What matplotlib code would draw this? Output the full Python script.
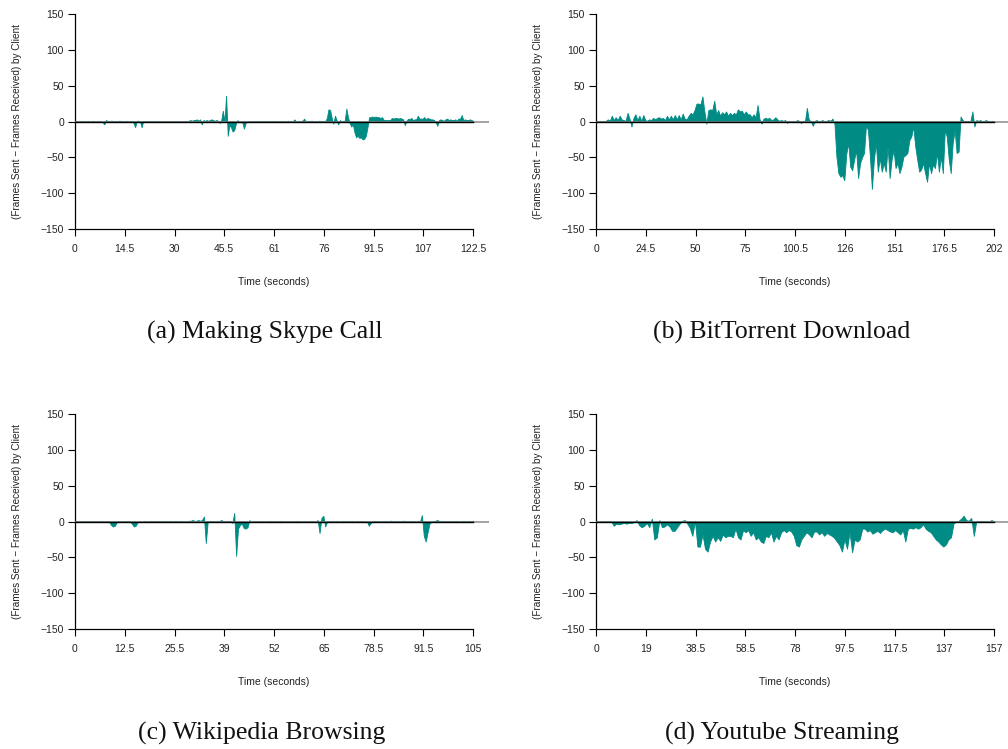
import numpy as np
import matplotlib
matplotlib.use("Agg")
import matplotlib.pyplot as plt
from matplotlib.transforms import blended_transform_factory

# ---------------------------------------------------------------------------
# Frame imbalance per time step: (frames sent - frames received) by client
# ---------------------------------------------------------------------------

# (a) Skype call, sampled every 0.5 s from 0 to 122.5 s
skype_step = 0.5
skype_diff = [
    0, 0, 0, 0, 1, 0, 0, 0, 1, 0, 0, 1, 0, 0, 0, 0, 0, -1, -4, 2,
    1, 0, 1, 1, 0, 1, 0, 1, 1, 0, 1, 0, 1, 0, 0, 1, -2, -8, 1, 1,
    0, -8, 1, 0, 1, 0, 1, 0, 0, 1, 0, 1, 0, 0, 0, 0, 0, 0, 0, 0,
    0, 0, 0, 0, 0, 0, 0, 0, 0, 0, 1, 2, 1, 2, 2, 3, 1, 3, -4, 2,
    1, 2, 1, 2, 3, 2, 1, 2, 1, -2, 2, 15, 0, 36, -20, -5, -8, -14, -12, -3,
    2, -1, -1, -1, -10, -2, 0, 1, 0, 1, 0, 1, 0, 0, 1, 0, 1, 0, 0, 1,
    0, 1, 0, 1, 0, 0, 1, 0, 1, 0, 0, 1, 0, 0, 0, 3, 0, 1, 0, 1,
    1, 4, 0, 1, 0, 1, 1, 0, 1, 0, 1, 1, 0, 1, 0, 5, 17, 16, 5, -3,
    8, 2, -4, 2, 0, 1, 1, 18, 6, -2, -7, -4, -15, -22, -20, -23, -22, -25, -24, -20,
    -8, 6, 6, 7, 6, 7, 6, 6, 5, 6, 2, 2, 2, 2, 2, 5, 4, 5, 5, 4,
    5, 4, 3, -5, 1, 4, 3, 5, 2, 3, 3, 8, 4, 4, 4, 6, 3, 5, 4, 3,
    3, 2, -1, -6, 2, 3, 2, 1, 3, 4, 2, 3, 2, 2, 3, 1, 4, 4, 9, 2,
    3, 2, 2, 3, 2, 1,
]

# (b) BitTorrent download, sampled every 1 s from 0 to 202 s
torrent_step = 1.0
torrent_diff = [
    0, 0, 1, 0, 0, 1, 3, 1, 8, 2,
    6, 2, 8, 3, 2, 1, 12, 4, -7, 5,
    10, 2, 8, 1, 9, 2, 1, 3, 2, 5,
    3, 5, 6, 4, 5, 2, 8, 3, 8, 3,
    9, 3, 9, 3, 11, 4, 3, 8, 12, 10,
    16, 25, 25, 24, 35, 14, -3, 16, 17, 16,
    29, 10, 16, 8, 13, 10, 14, 8, 12, 9,
    12, 10, 17, 14, 15, 10, 14, 10, 10, 6,
    10, 6, 23, 3, -3, 4, 5, 4, 5, 2,
    3, 6, 3, 1, 2, 1, 2, -2, 1, 0,
    1, -1, 2, 1, -2, 1, 0, 19, 2, 1,
    -6, 1, 2, 0, 1, 2, -1, 1, 2, 1,
    4, -3, -49, -72, -77, -75, -82, -45, -30, -63,
    -68, -53, -40, -79, -58, -50, -44, -5, -12, -49,
    -94, -53, -30, -70, -51, -70, -58, -70, -35, -79,
    -53, -40, -65, -58, -72, -63, -49, -47, -44, -26,
    -21, -7, -35, -53, -70, -67, -58, -72, -84, -58,
    -72, -60, -65, -44, -70, -49, -72, -12, -21, -53,
    -72, -30, -12, -44, -42, 7, 2, 0, 1, 0,
    1, 14, -7, 2, 1, 2, 0, 1, 2, 0,
    -1, 1, 0,
]

# (c) Wikipedia browsing, sampled every 0.5 s from 0 to 105 s
wiki_step = 0.5
wiki_diff = [
    0, 0, 0, 0, 0, 0, 0, 0, 0, 0, 0, 0, 0, 0, 0, 0, 0, 0, 0, -5,
    -7, -6, -1, 0, 0, 0, 0, 0, 0, 0, -3, -7, -6, -1, 0, -1, 0, 1, -1, 0,
    1, 0, 0, 1, 0, 0, 1, 0, 1, 0, 1, 0, 0, 1, 0, 0, 1, 0, 0, 0,
    1, 1, 2, 1, 1, 2, 1, 2, 7, -30, 0, 0, 1, 0, 0, 1, 0, 2, 1, 0,
    0, 1, 0, -2, 12, -48, -10, -5, -3, -9, -10, -8, 2, -1, 0, 0, 0, 0, 1, 0,
    0, 0, 0, 1, 0, 0, 0, 0, 1, 0, 0, 0, 0, 0, 0, 0, 0, 1, 0, 0,
    0, 0, 0, 0, 0, 0, 0, 0, 2, -16, 5, 8, -7, 0, 0, 1, 0, 0, 1, 0,
    0, 1, 0, 0, 1, 0, 1, 0, 0, 1, 0, 0, 0, 0, 0, -6, -2, 0, 1, 0,
    1, 0, 1, 0, 1, 0, 1, 1, 0, 1, 0, 1, 0, 1, 1, 0, 0, 1, 0, 0,
    0, 0, 0, 9, -20, -28, -15, -3, 0, 0, 1, 2, 1, 0, 1, 0, 1, 0, 1, 0,
    0, 1, 0, 0, 0, 1, 0, 0, 1, 0, 1,
]

# (d) YouTube streaming, sampled every 1 s from 0 to 157 s
youtube_step = 1.0
youtube_diff = [
    0, 0, 0, 0, 0, 0, 0, -6, -3, -4,
    -3, -2, -3, -2, -2, -1, 2, -5, -8, -6,
    -2, -8, 4, -25, -22, 2, -8, -7, -4, -7,
    -13, -13, -8, -3, 1, 2, -3, -9, -20, 1,
    -35, -35, -18, -38, -42, -28, -20, -28, -22, -27,
    -18, -22, -20, -20, -22, -10, -22, -25, -12, -15,
    -12, -20, -15, -25, -22, -28, -30, -20, -22, -15,
    -28, -20, -25, -15, -12, -15, -12, -14, -20, -33,
    -35, -25, -20, -15, -18, -22, -14, -14, -18, -15,
    -20, -16, -18, -20, -23, -28, -33, -42, -25, -38,
    -15, -43, -25, -28, -25, -10, -10, -14, -12, -17,
    -15, -13, -16, -12, -10, -12, -14, -15, -12, -15,
    -18, -12, -28, -10, -9, -10, -8, -10, -8, -4,
    -10, -13, -15, -20, -25, -28, -32, -35, -32, -25,
    -22, -3, 0, 1, 4, 8, 2, 1, 5, -20,
    1, 0, 1, 0, 0, 0, 2, 0,
]

# Tick labels along each time axis (nine evenly spaced ticks)
skype_xticks = ["0", "14.5", "30", "45.5", "61", "76", "91.5", "107", "122.5"]
torrent_xticks = ["0", "24.5", "50", "75", "100.5", "126", "151", "176.5", "202"]
wiki_xticks = ["0", "12.5", "25.5", "39", "52", "65", "78.5", "91.5", "105"]
youtube_xticks = ["0", "19", "38.5", "58.5", "78", "97.5", "117.5", "137", "157"]

captions = ["(a) Making Skype Call", "(b) BitTorrent Download",
            "(c) Wikipedia Browsing", "(d) Youtube Streaming"]

y_ticks = [-150, -100, -50, 0, 50, 100, 150]

FILL = "#008b84"
TEXT = "#222222"

plt.rcParams["font.family"] = ["Liberation Sans", "DejaVu Sans"]

W, H = 1008, 749
fig = plt.figure(figsize=(W / 100, H / 100), dpi=100)


def frac_box(left_px, top_px, width_px, height_px):
    return [left_px / W, 1 - (top_px + height_px) / H, width_px / W, height_px / H]


panels = [
    (skype_diff, skype_step, skype_xticks, (75, 14), (265, 332)),
    (torrent_diff, torrent_step, torrent_xticks, (596, 14), (782, 332)),
    (wiki_diff, wiki_step, wiki_xticks, (75, 414), (262, 733)),
    (youtube_diff, youtube_step, youtube_xticks, (596, 414), (782, 733)),
]

AX_W, AX_H = 414, 215

for (values, step, xlabels, (lx, ty), (cx, cy)), cap in zip(panels, captions):
    ax = fig.add_axes(frac_box(lx, ty, AX_W, AX_H))
    vals = np.asarray(values, dtype=float)
    t = np.arange(len(vals)) * step
    xmax = float(xlabels[-1])

    ax.fill_between(t, 0, vals, color=FILL, linewidth=0.6, edgecolor=FILL,
                    interpolate=True, zorder=2)
    # reference line at zero: grey across the axes, black over the sampled span
    ax.axhline(0, color="#8a8a8a", lw=1.1, zorder=3)
    ax.plot([0, xmax], [0, 0], color="black", lw=1.0, zorder=4)

    ax.set_xlim(0, xmax * 1.04)
    ax.set_ylim(-150, 150)

    ax.set_xticks(np.linspace(0, xmax, len(xlabels)))
    ax.set_xticklabels(xlabels)
    ax.set_yticks(y_ticks)
    ax.set_yticklabels([str(v).replace("-", "\u2212") for v in y_ticks])

    for side in ("top", "right"):
        ax.spines[side].set_visible(False)
    for side in ("left", "bottom"):
        ax.spines[side].set_color("black")
        ax.spines[side].set_linewidth(0.9)
    ax.spines["bottom"].set_bounds(0, xmax)

    ax.tick_params(axis="both", direction="out", length=5, width=0.8,
                   color="black", labelsize=7.5, labelcolor=TEXT, pad=3)
    ax.tick_params(axis="x", pad=6)

    ax.text(xmax / 2, -0.245, "Time (seconds)", ha="center", va="center",
            fontsize=7.5, color=TEXT,
            transform=blended_transform_factory(ax.transData, ax.transAxes))
    ax.text(-0.14, 0.5, "(Frames Sent \u2212 Frames Received) by Client",
            rotation=90, ha="center", va="center", fontsize=7.2, color=TEXT,
            transform=ax.transAxes)

    fig.text(cx / W, 1 - cy / H, cap, ha="center", va="center",
             fontsize=18.5, family=["Liberation Serif", "DejaVu Serif"],
             color="#111111")

fig.savefig("out.png", dpi=100)
